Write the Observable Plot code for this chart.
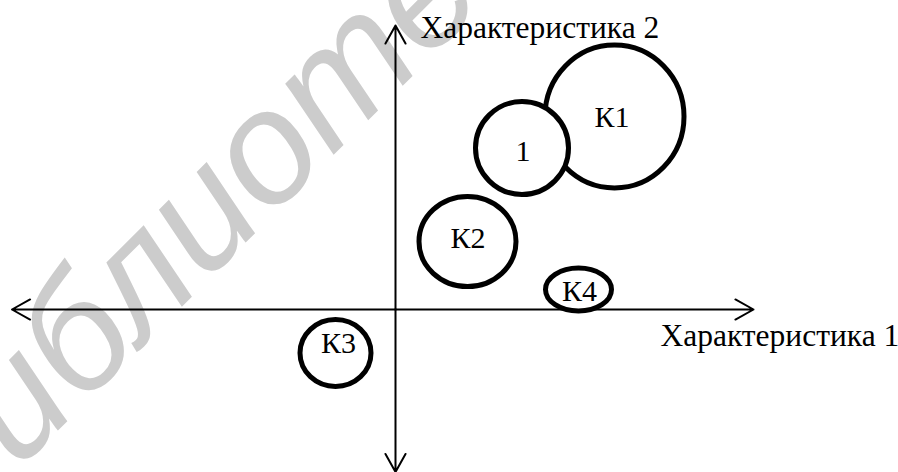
<!DOCTYPE html>
<html>
<head>
<meta charset="utf-8">
<script src="https://cdn.jsdelivr.net/npm/d3@7"></script>
<script src="https://cdn.jsdelivr.net/npm/@observablehq/plot@0.6"></script>
<style>
  html, body { margin: 0; padding: 0; background: #fff; overflow: hidden; }
</style>
</head>
<body>
<div id="chart"></div>
<script>
// Positioning map: characteristic 1 (horizontal) vs characteristic 2 (vertical)
const brands = ["К1", "1", "К2", "К4", "К3"];
const char1 = [4.38, 2.53, 1.44, 3.66, -1.20];   // Характеристика 1
const char2 = [3.86, 3.23, 1.36, 0.40, -0.87];   // Характеристика 2
const sizeW = [1.39, 0.93, 0.97, 0.66, 0.71];     // bubble half-width (units)
const sizeH = [1.43, 0.93, 0.90, 0.43, 0.67];     // bubble half-height (units)
const labelX = [4.33, 2.55, 1.45, 3.68, -1.14];
const labelY = [3.85, 3.16, 1.43, 0.36, -0.67];

const axisTitles = ["Характеристика 1", "Характеристика 2"];
const axisTitleX = [5.30, 0.50];
const axisTitleY = [-0.53, 5.63];

// axis extents (units), arrows in both directions
const axisEndX = [-7.67, 7.16, 0, 0];
const axisEndY = [0, 0, 5.68, -3.25];

const watermarkText = ["Библиотека"];
const watermarkX = [-3.14];
const watermarkY = [2.64];

const bubbles = brands.map((b, i) => ({
  brand: b, x: char1[i], y: char2[i], w: sizeW[i], ratio: sizeH[i] / sizeW[i],
  lx: labelX[i], ly: labelY[i]
}));
const axes = axisEndX.map((x, i) => ({x1: 0, y1: 0, x2: x, y2: axisEndY[i]}));
const titles = axisTitles.map((t, i) => ({t, x: axisTitleX[i], y: axisTitleY[i]}));
const watermark = watermarkText.map((t, i) => ({t, x: watermarkX[i], y: watermarkY[i]}));

function ellipse(ratio) {
  const k = 0.5522847498;
  return {
    draw(ctx, size) {
      const rx = Math.sqrt(size / Math.PI), ry = rx * ratio;
      ctx.moveTo(rx, 0);
      ctx.bezierCurveTo(rx, ry * k, rx * k, ry, 0, ry);
      ctx.bezierCurveTo(-rx * k, ry, -rx, ry * k, -rx, 0);
      ctx.bezierCurveTo(-rx, -ry * k, -rx * k, -ry, 0, -ry);
      ctx.bezierCurveTo(rx * k, -ry, rx, -ry * k, rx, 0);
      ctx.closePath();
    }
  };
}

const serif = "'Liberation Serif', 'Times New Roman', serif";

const chart = Plot.plot({
  width: 898,
  height: 472,
  margin: 0,
  x: {domain: [-7.9, 10.06], axis: null},
  y: {domain: [-3.26, 6.18], axis: null},
  r: {type: "linear", domain: [0, 1], range: [0, 50]},
  style: {background: "#fff", overflow: "hidden"},
  marks: [
    Plot.text(watermark, {
      x: "x", y: "y", text: "t", rotate: -45, fontSize: 160, fontStyle: "italic",
      fontFamily: "'Liberation Sans', Arial, sans-serif",
      fill: "#cccccc", textAnchor: "middle", lineAnchor: "middle"
    }),
    Plot.arrow(axes, {
      x1: "x1", y1: "y1", x2: "x2", y2: "y2",
      stroke: "#000", strokeWidth: 2, headLength: 15.5, headAngle: 58
    }),
    ...bubbles.map(d => Plot.dot([d], {
      x: "x", y: "y", r: "w", symbol: ellipse(d.ratio),
      fill: "#fff", stroke: "#000", strokeWidth: 5
    })),
    Plot.text(bubbles, {
      x: "lx", y: "ly", text: "brand", fontSize: 30, fontFamily: serif,
      fill: "#000", textAnchor: "middle", lineAnchor: "middle"
    }),
    Plot.text(titles, {
      x: "x", y: "y", text: "t", fontSize: 31.5, fontFamily: serif,
      fill: "#000", textAnchor: "start", lineAnchor: "middle"
    })
  ]
});
document.getElementById("chart").appendChild(chart);
</script>
</body>
</html>
